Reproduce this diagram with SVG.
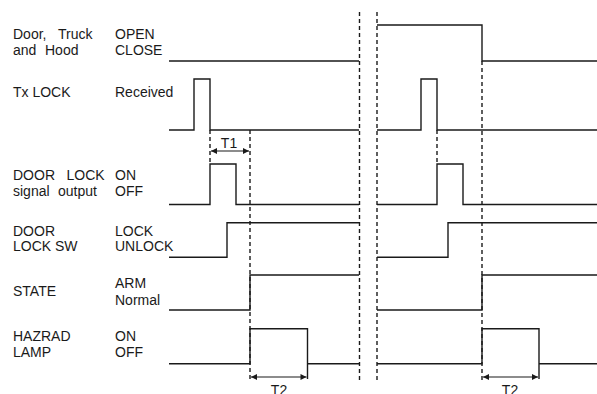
<svg xmlns="http://www.w3.org/2000/svg" width="597" height="394" viewBox="0 0 597 394">
<style>
text{font-family:"Liberation Sans",Arial,sans-serif;font-size:14px;fill:#1a1a1a}
.mid{text-anchor:middle}
.sig{fill:none;stroke:#1a1a1a;stroke-width:1.4;stroke-linejoin:miter}
.dash{fill:none;stroke:#1a1a1a;stroke-width:1.4;stroke-dasharray:4 3}
.dim{fill:none;stroke:#1a1a1a;stroke-width:1.2;marker-start:url(#ah);marker-end:url(#ah)}
</style>
<defs>
<marker id="ah" viewBox="0 0 10 10" refX="10" refY="5" markerWidth="7" markerHeight="6" markerUnits="userSpaceOnUse" orient="auto-start-reverse">
<path d="M0,0 L10,5 L0,10 z" fill="#1a1a1a"/>
</marker>
</defs>
<g id="door">
<text><tspan x="13" y="39">Door,</tspan><tspan x="58" y="39">Truck</tspan></text>
<text><tspan x="13" y="55">and</tspan><tspan x="45" y="55">Hood</tspan></text>
<text x="115" y="39">OPEN</text>
<text x="115" y="55">CLOSE</text>
<path class="sig" d="M169,61 H359 M377,25 H482 V61 H597"/>
</g>
<g id="txlock">
<text x="13" y="96.7">Tx LOCK</text>
<text x="115" y="96.7">Received</text>
<path class="sig" d="M169,130 H194 V79 H210 V130 H359 M377,130 H421 V79 H437 V130 H597"/>
</g>
<g id="doorlock-signal">
<text><tspan x="13" y="180">DOOR</tspan><tspan x="66.5" y="180">LOCK</tspan></text>
<text><tspan x="13" y="196">signal</tspan><tspan x="58" y="196">output</tspan></text>
<text x="115" y="180">ON</text>
<text x="115" y="196">OFF</text>
<path class="sig" d="M169,204.5 H210 V164 H236 V204.5 H359 M377,204.5 H437 V164 H463 V204.5 H597"/>
</g>
<g id="doorlock-sw">
<text x="13" y="235.7">DOOR</text>
<text x="13" y="251.3">LOCK SW</text>
<text x="115" y="235.7">LOCK</text>
<text x="115" y="251.3">UNLOCK</text>
<path class="sig" d="M169,257.3 H227 V222.7 H359 M377,257.3 H448 V222.7 H597"/>
</g>
<g id="state">
<text x="13" y="295.7">STATE</text>
<text x="115" y="288">ARM</text>
<text x="115" y="304.7">Normal</text>
<path class="sig" d="M169,310 H250 V275 H359 M377,310 H482 V275 H597"/>
</g>
<g id="hazard-lamp">
<text x="13" y="340.7">HAZRAD</text>
<text x="13" y="357.3">LAMP</text>
<text x="115" y="340.7">ON</text>
<text x="115" y="357.3">OFF</text>
<path class="sig" d="M169,363.7 H250 V328.7 H307.5 V379 M307.5,363.7 H359 M377,363.7 H482 V328.7 H539 V379 M539,363.7 H597"/>
</g>
<g id="connectors">
<path class="dash" d="M359.5,12 V380 M377,12 V380"/>
<path class="dash" d="M210,130 V164 M250,130 V380 M437,130 V164 M482,61 V380"/>
<path class="dim" d="M211,151 H249"/>
<path class="dim" d="M251,377 H306.5"/>
<path class="dim" d="M483,377 H538"/>
<text class="mid" x="229" y="147.7">T1</text>
<text class="mid" x="279" y="395">T2</text>
<text class="mid" x="510" y="395">T2</text>
</g>
</svg>
